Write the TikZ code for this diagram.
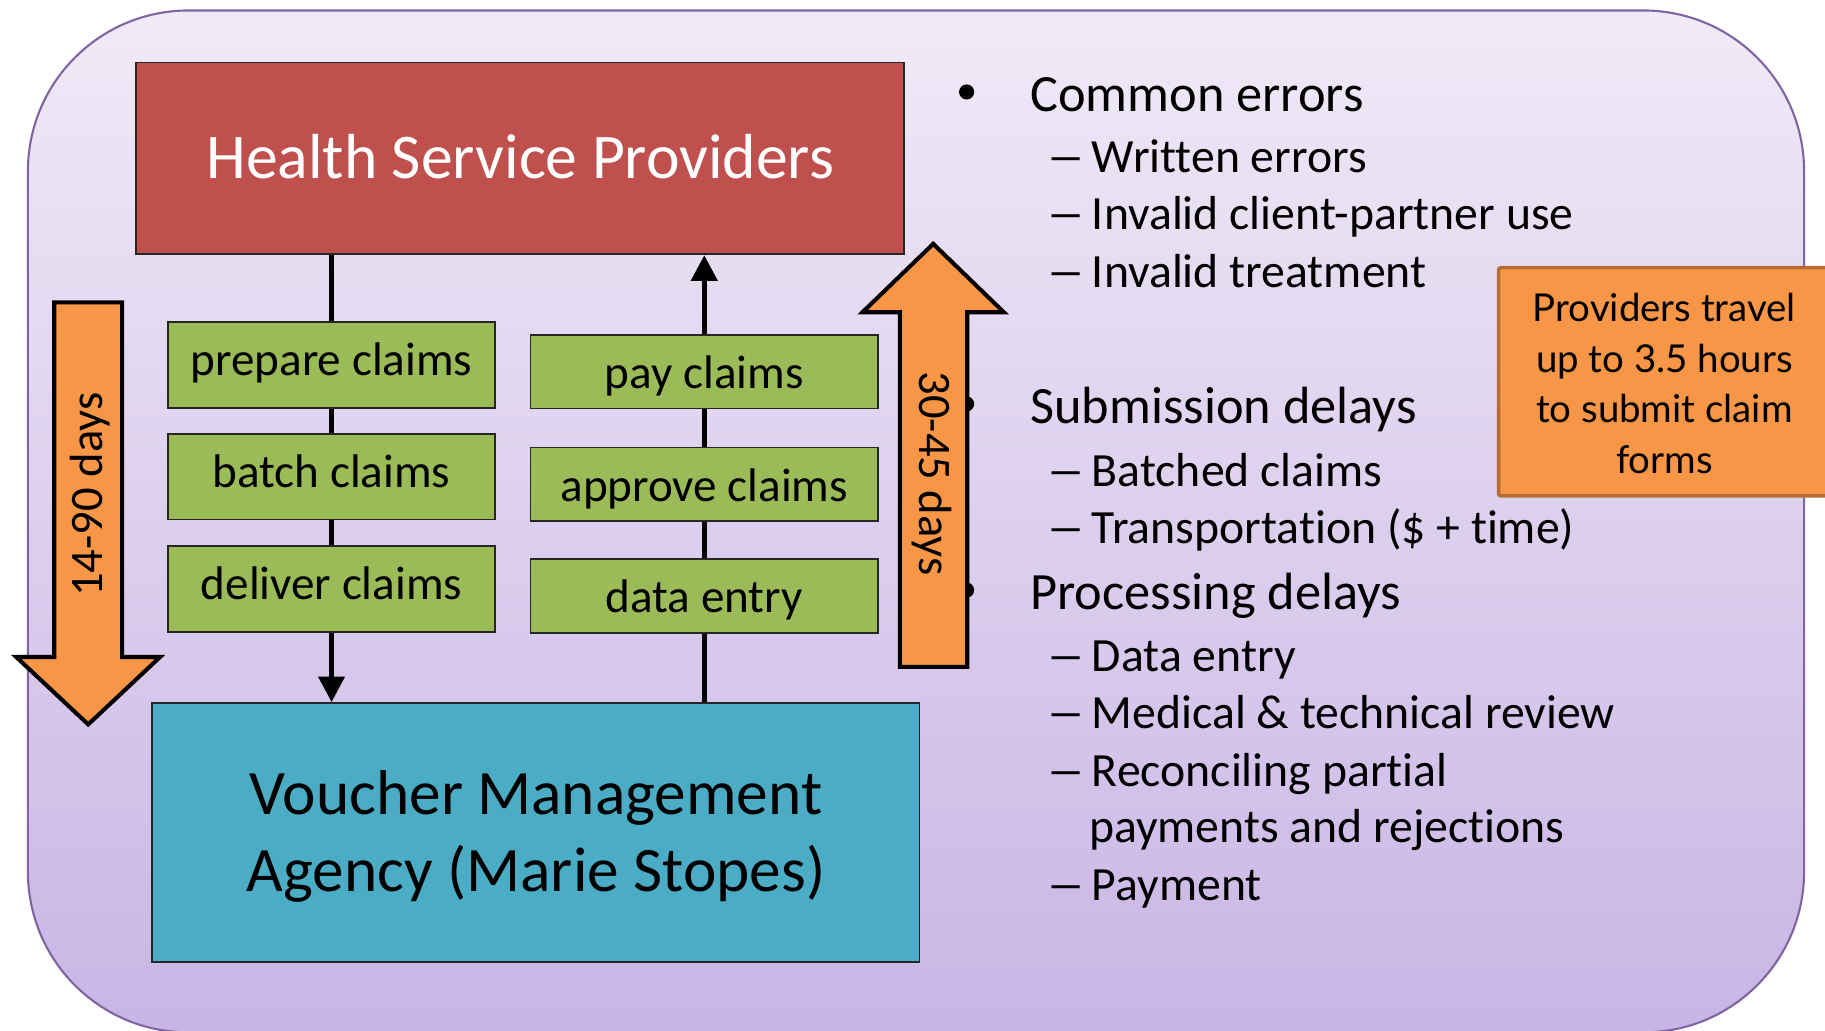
\documentclass[tikz,border=0pt]{standalone}
\usepackage{fontspec}
\setmainfont{Carlito}[Ligatures={NoCommon}]
\newfontfamily\callfont{Lato}[Ligatures={NoCommon}]
\usetikzlibrary{arrows.meta}
\definecolor{bgtop}{HTML}{F0EAF7}
\definecolor{bgbot}{HTML}{C9B5E5}
\definecolor{bgline}{HTML}{8064A2}
\definecolor{hspred}{HTML}{C0504D}
\definecolor{boxgreen}{HTML}{9BBB59}
\definecolor{vmablue}{HTML}{4BACC6}
\definecolor{arrorange}{HTML}{F79646}
\definecolor{calloutline}{HTML}{B66D31}
\newcommand\setfs[2]{\fontsize{#1}{#2}\selectfont}
\pgfdeclarelayer{bgl}
\pgfdeclarelayer{lines}
\pgfsetlayers{bgl,lines,main}
\begin{document}
\begin{tikzpicture}[x=1pt,y=-1pt,
  gbox/.style={draw=black!85, line width=1.5pt, fill=boxgreen, inner sep=0pt, font=\setfs{40.5}{48}, text depth=0pt},
  lbox/.style={gbox, minimum width=281.5pt, minimum height=73.5pt, text height=19pt},
  rbox/.style={gbox, minimum width=298.6pt, minimum height=63.2pt, text height=29pt},
  conn/.style={line width=4.6pt, -{Triangle[width=22pt,length=22pt]}},
  blockarrow/.style={draw=black, line width=3.5pt, fill=arrorange, line join=miter},
  mainitem/.style={anchor=base west, font=\setfs{45}{54}, inner sep=0pt},
  subitem/.style={anchor=base west, font=\setfs{41}{49}, inner sep=0pt},
  dashitem/.style={subitem, xscale=1.65},
  dot/.style={circle, fill=black, inner sep=0pt, minimum size=13pt},
  callline/.style={anchor=base, font=\callfont\setfs{33}{43}, inner sep=0pt}
]
\useasboundingbox (0,0) rectangle (1568,885);

\begin{pgfonlayer}{bgl}
\path[draw=bgline, line width=1.8pt, top color=bgtop, bottom color=bgbot, rounded corners=138pt]
  (24,9) rectangle (1550,887);
\end{pgfonlayer}

% main boxes
\node[draw=black!85, line width=1.5pt, fill=hspred, minimum width=660.2pt, minimum height=164.9pt,
      inner sep=0pt, text=white, font=\setfs{54.7}{64}, text height=35pt, text depth=0pt]
  (hsp) at (446.9,136.05) {Health Service Providers};
\node[draw=black!85, line width=1.5pt, fill=vmablue, minimum width=659.6pt, minimum height=222.5pt, inner sep=0pt]
  (vma) at (460.2,715.25) {};
\node[anchor=base, font=\setfs{54.4}{66}, inner sep=0pt] (vmat1) at (460.5,700) {Voucher Management};
\node[anchor=base, font=\setfs{54.4}{66}, inner sep=0pt] (vmat2) at (460.5,766) {Agency (Marie Stopes)};

% step boxes
\node[lbox] (prep) at (284.85,313.55) {prepare claims};
\node[lbox] (batch) at (284.85,409.5) {batch claims};
\node[lbox] (deliv) at (284.85,506) {deliver claims};
\node[rbox] (pay) at (605.1,319.4) {pay claims};
\node[rbox] (appr) at (605.1,416) {approve claims};
\node[rbox] (dent) at (605.1,512) {data entry};

\begin{pgfonlayer}{lines}
\draw[conn] (prep.center |- hsp.south) -- (prep.center |- vma.north);
\draw[conn] (pay.center |- vma.north) -- (pay.center |- hsp.south);
\end{pgfonlayer}

% bullet list
\node[dot] (b1) at (830.5,79) {};
\node[dot] (b2) at (830.5,347) {};
\node[dot] (b3) at (830.5,507) {};
\node[mainitem] (m1) at (885,96) {Common errors};
\node[dashitem] (d11) at (899,148) {–};
\node[subitem] (s11) at (938,148) {Written errors};
\node[dashitem] (d12) at (899,197.6) {–};
\node[subitem] (s12) at (938,197.6) {Invalid client-partner use};
\node[dashitem] (d13) at (899,246.7) {–};
\node[subitem] (s13) at (938,246.7) {Invalid treatment};
\node[mainitem] (m2) at (885,364) {Submission delays};
\node[dashitem] (d21) at (899,418) {–};
\node[subitem] (s21) at (938,418) {Batched claims};
\node[dashitem] (d22) at (899,467) {–};
\node[subitem] (s22) at (938,467) {Transportation (\$ + time)};
\node[mainitem] (m3) at (885,524) {Processing delays};
\node[dashitem] (d31) at (899,577) {–};
\node[subitem] (s31) at (938,577) {Data entry};
\node[dashitem] (d32) at (899,626) {–};
\node[subitem] (s32) at (938,626) {Medical \& technical review};
\node[dashitem] (d33) at (899,676) {–};
\node[subitem] (s33) at (938,676) {Reconciling partial};
\node[subitem] (s34) at (935.6,724) {payments and rejections};
\node[dashitem] (d35) at (899,774) {–};
\node[subitem] (s35) at (938,774) {Payment};

% block arrows
\path[blockarrow] (46.6,259.8) -- (105,259.8) -- (105,564.5) -- (137.5,564.5) -- (75.8,622.4)
  -- (14,564.5) -- (46.6,564.5) -- cycle;
\node[rotate=90, font=\setfs{40}{48}, inner sep=0pt] (lt) at (77,425) {14-90 days};
\path[blockarrow] (773.2,573) -- (831,573) -- (831,268.3) -- (862.5,268.3) -- (801.8,209.5)
  -- (741,268.3) -- (773.2,268.3) -- cycle;
\node[rotate=-90, font=\setfs{40}{48}, inner sep=0pt] (rt) at (801,407) {30-45 days};

% callout
\node[draw=calloutline, line width=3pt, fill=arrorange, rounded corners=2pt,
      minimum width=320pt, minimum height=196pt, inner sep=0pt] (call) at (1447.5,328) {};
\node[callline] (c1) at (1430,276.4) {Providers travel};
\node[callline] (c2) at (1430,320) {up to 3.5 hours};
\node[callline] (c3) at (1430,363) {to submit claim};
\node[callline] (c4) at (1430,406.5) {forms};
\end{tikzpicture}
\end{document}
